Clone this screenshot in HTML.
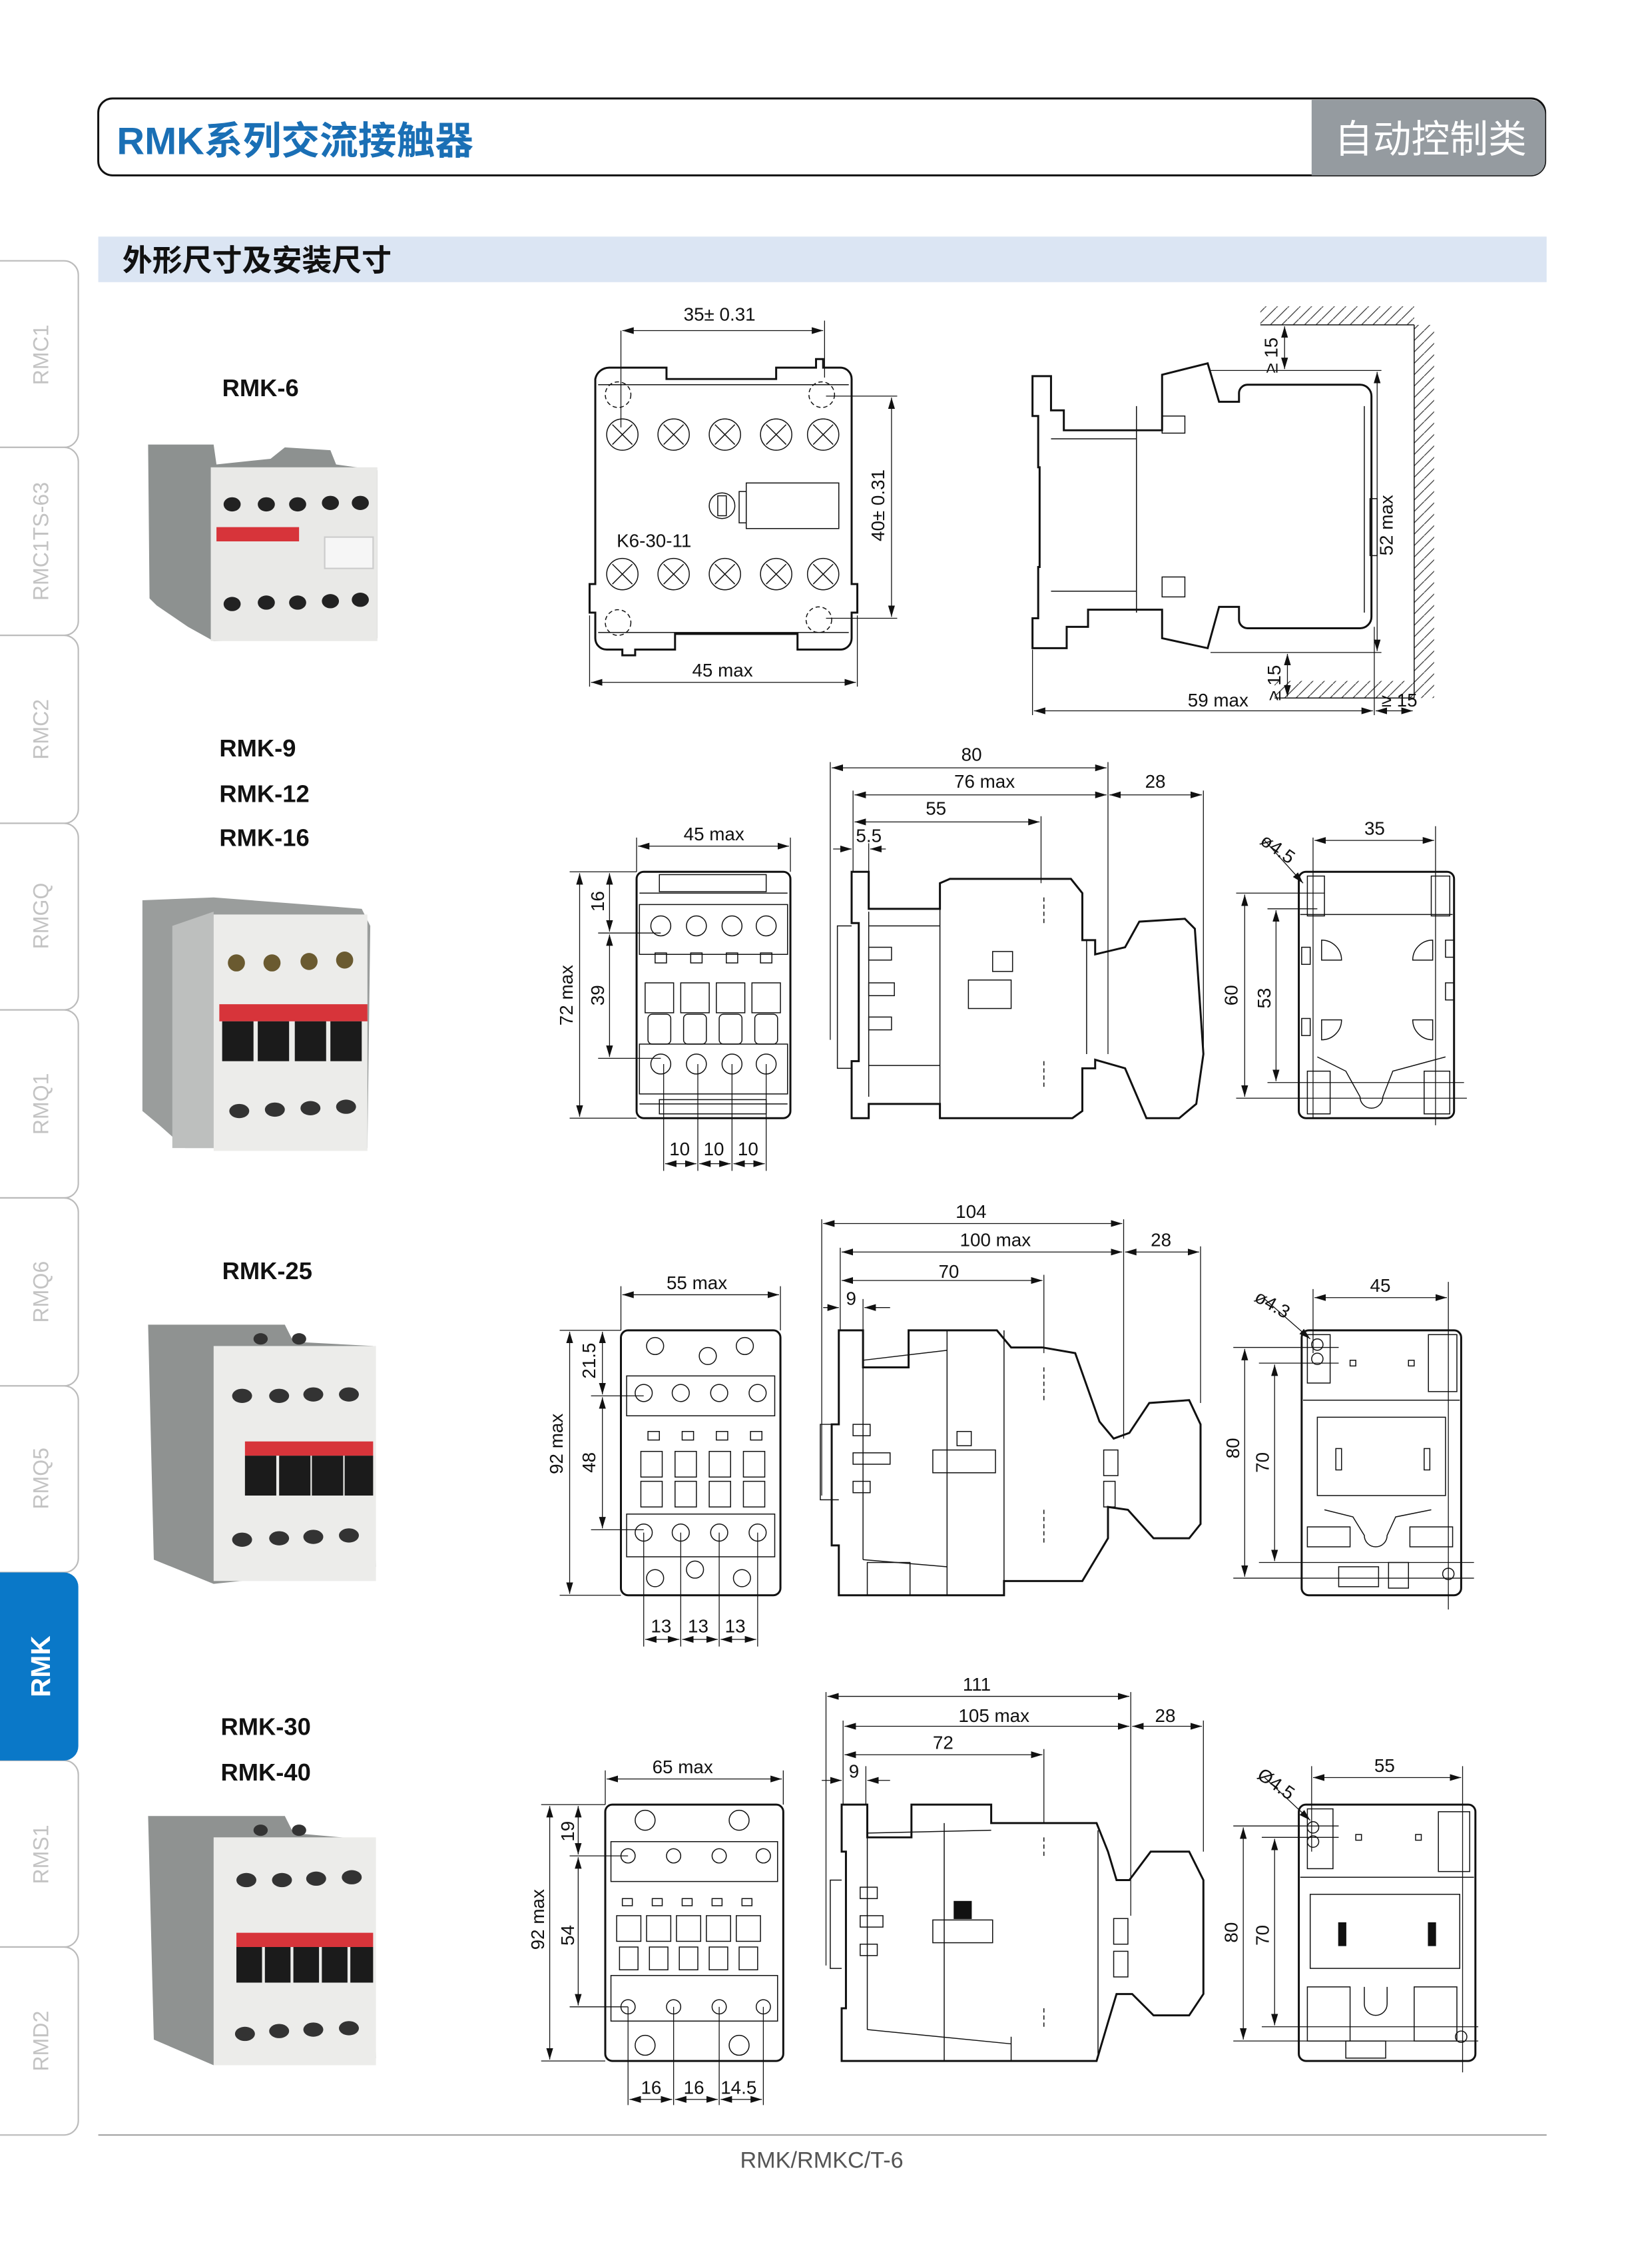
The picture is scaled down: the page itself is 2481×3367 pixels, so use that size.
<!DOCTYPE html>
<html><head><meta charset="utf-8">
<style>
html,body{margin:0;padding:0;background:#fff;}
svg{display:block;}
text{font-family:"Liberation Sans","Noto Sans CJK SC",sans-serif;}
.l{fill:none;stroke:#111;stroke-width:1.4}
.t{fill:none;stroke:#111;stroke-width:0.7}
.d{fill:none;stroke:#111;stroke-width:0.6}
.dl{font-size:13px;fill:#111}
.tab{font-size:15px;fill:#c3c3c3}
.m{font-size:17px;font-weight:bold;fill:#111}
.dash{fill:none;stroke:#111;stroke-width:0.7;stroke-dasharray:3 2}
</style></head>
<body>
<svg width="2481" height="3367" viewBox="0 0 1160 1574" xmlns="http://www.w3.org/2000/svg">
<defs>
<marker id="a" viewBox="0 0 10 6" refX="10" refY="3" markerWidth="8" markerHeight="5" orient="auto-start-reverse" markerUnits="userSpaceOnUse"><path d="M0,0L10,3L0,6z" fill="#111"/></marker>
<pattern id="h" width="8" height="8" patternUnits="userSpaceOnUse"><path d="M0,8L8,0" stroke="#333" stroke-width="0.6"/></pattern>
</defs>

<!-- header -->
<rect x="69" y="69" width="1016" height="54" rx="10" fill="#fff" stroke="#111" stroke-width="1.4"/>
<path d="M921,70H1075a10,10 0 0 1 10,10V113a10,10 0 0 1 -10,10H921z" fill="#959ba0"/>
<text x="82" y="108" font-size="27" font-weight="bold" fill="#1a6fb5">RMK系列交流接触器</text>
<text x="937" y="107" font-size="27" fill="#fff">自动控制类</text>

<rect x="69" y="166" width="1017" height="32" fill="#dbe5f3"/>
<text x="86" y="190" font-size="21" font-weight="bold" fill="#111">外形尺寸及安装尺寸</text>

<!-- side tabs -->
<g fill="#fff" stroke="#bbb" stroke-width="1">
<path d="M0,183H45a10,10 0 0 1 10,10V304a10,10 0 0 1 -10,10H0"/>
<path d="M0,314H45a10,10 0 0 1 10,10V436a10,10 0 0 1 -10,10H0"/>
<path d="M0,446H45a10,10 0 0 1 10,10V568a10,10 0 0 1 -10,10H0"/>
<path d="M0,578H45a10,10 0 0 1 10,10V699a10,10 0 0 1 -10,10H0"/>
<path d="M0,709H45a10,10 0 0 1 10,10V831a10,10 0 0 1 -10,10H0"/>
<path d="M0,841H45a10,10 0 0 1 10,10V963a10,10 0 0 1 -10,10H0"/>
<path d="M0,973H45a10,10 0 0 1 10,10V1094a10,10 0 0 1 -10,10H0"/>
<path d="M0,1236H45a10,10 0 0 1 10,10V1357a10,10 0 0 1 -10,10H0"/>
<path d="M0,1367H45a10,10 0 0 1 10,10V1489a10,10 0 0 1 -10,10H0"/>
</g>
<path d="M0,1104H45a10,10 0 0 1 10,10V1226a10,10 0 0 1 -10,10H0z" fill="#0a78c8"/>
<g text-anchor="middle">
<text class="tab" transform="translate(34,249) rotate(-90)">RMC1</text>
<text class="tab" transform="translate(34,380) rotate(-90)">RMC1TS-63</text>
<text class="tab" transform="translate(34,512) rotate(-90)">RMC2</text>
<text class="tab" transform="translate(34,643) rotate(-90)">RMGQ</text>
<text class="tab" transform="translate(34,775) rotate(-90)">RMQ1</text>
<text class="tab" transform="translate(34,907) rotate(-90)">RMQ6</text>
<text class="tab" transform="translate(34,1038) rotate(-90)">RMQ5</text>
<text transform="translate(35,1170) rotate(-90)" font-size="19" font-weight="bold" fill="#fff">RMK</text>
<text class="tab" transform="translate(34,1302) rotate(-90)">RMS1</text>
<text class="tab" transform="translate(34,1433) rotate(-90)">RMD2</text>
</g>

<!-- model labels -->
<text class="m" x="156" y="278">RMK-6</text>
<text class="m" x="154" y="531">RMK-9</text>
<text class="m" x="154" y="563">RMK-12</text>
<text class="m" x="154" y="594">RMK-16</text>
<text class="m" x="156" y="898">RMK-25</text>
<text class="m" x="155" y="1218">RMK-30</text>
<text class="m" x="155" y="1250">RMK-40</text>

<!-- photo 1 -->
<g>
<path d="M104,312L150,312L152,326L190,322L200,314L232,316L236,326L265,330L265,448L150,450L132,440L110,425L105,420z" fill="#8d9190"/>
<rect x="148" y="328" width="117" height="122" fill="#e9e9e7"/>
<g fill="#222"><ellipse cx="163" cy="354" rx="6" ry="5"/><ellipse cx="187" cy="354" rx="6" ry="5"/><ellipse cx="209" cy="354" rx="6" ry="5"/><ellipse cx="232" cy="353" rx="6" ry="5"/><ellipse cx="253" cy="353" rx="6" ry="5"/>
<ellipse cx="163" cy="424" rx="6" ry="5"/><ellipse cx="187" cy="423" rx="6" ry="5"/><ellipse cx="209" cy="423" rx="6" ry="5"/><ellipse cx="232" cy="422" rx="6" ry="5"/><ellipse cx="253" cy="421" rx="6" ry="5"/></g>
<rect x="152" y="370" width="58" height="10" fill="#d7343a"/>
<rect x="228" y="377" width="34" height="22" fill="#f6f6f6" stroke="#ccc"/>
</g>
<!-- photo 2 -->
<g>
<path d="M100,632L150,630L254,638L260,650L258,806L130,806L112,790L100,780z" fill="#9a9d9c"/>
<path d="M121,650L150,640L150,806L121,806z" fill="#bdbfbe"/>
<rect x="150" y="642" width="108" height="166" fill="#ececea"/>
<g fill="#6a5a30"><circle cx="166" cy="676" r="6"/><circle cx="191" cy="676" r="6"/><circle cx="217" cy="675" r="6"/><circle cx="242" cy="674" r="6"/></g>
<rect x="154" y="705" width="104" height="12" fill="#d7343a"/>
<g fill="#1b1b1b"><rect x="156" y="717" width="22" height="28"/><rect x="181" y="717" width="22" height="28"/><rect x="207" y="717" width="22" height="28"/><rect x="232" y="717" width="22" height="28"/></g>
<g fill="#333"><ellipse cx="168" cy="780" rx="7" ry="5"/><ellipse cx="193" cy="779" rx="7" ry="5"/><ellipse cx="218" cy="778" rx="7" ry="5"/><ellipse cx="243" cy="777" rx="7" ry="5"/></g>
</g>
<!-- photo 3 -->
<g>
<path d="M104,930L200,930L206,942L262,945L264,1100L150,1112L108,1095z" fill="#8f9291"/>
<rect x="150" y="945" width="114" height="165" fill="#ececea"/>
<g fill="#333"><ellipse cx="183" cy="940" rx="5" ry="4"/><ellipse cx="210" cy="940" rx="5" ry="4"/><ellipse cx="170" cy="980" rx="7" ry="5"/><ellipse cx="196" cy="980" rx="7" ry="5"/><ellipse cx="220" cy="979" rx="7" ry="5"/><ellipse cx="245" cy="979" rx="7" ry="5"/>
<ellipse cx="170" cy="1081" rx="7" ry="5"/><ellipse cx="196" cy="1080" rx="7" ry="5"/><ellipse cx="220" cy="1079" rx="7" ry="5"/><ellipse cx="245" cy="1078" rx="7" ry="5"/></g>
<rect x="172" y="1012" width="90" height="10" fill="#d7343a"/>
<g fill="#1b1b1b"><rect x="172" y="1022" width="22" height="28"/><rect x="196" y="1022" width="22" height="28"/><rect x="219" y="1022" width="22" height="28"/><rect x="242" y="1022" width="20" height="28"/></g>
</g>
<!-- photo 4 -->
<g>
<path d="M104,1275L200,1275L206,1287L262,1292L264,1445L150,1450L108,1432z" fill="#8f9291"/>
<rect x="150" y="1290" width="114" height="160" fill="#ececea"/>
<g fill="#333"><ellipse cx="183" cy="1285" rx="5" ry="4"/><ellipse cx="210" cy="1285" rx="5" ry="4"/><ellipse cx="173" cy="1320" rx="7" ry="5"/><ellipse cx="198" cy="1320" rx="7" ry="5"/><ellipse cx="222" cy="1319" rx="7" ry="5"/><ellipse cx="247" cy="1318" rx="7" ry="5"/>
<ellipse cx="172" cy="1428" rx="7" ry="5"/><ellipse cx="196" cy="1426" rx="7" ry="5"/><ellipse cx="220" cy="1425" rx="7" ry="5"/><ellipse cx="245" cy="1424" rx="7" ry="5"/></g>
<rect x="166" y="1357" width="96" height="10" fill="#d7343a"/>
<g fill="#1b1b1b"><rect x="166" y="1367" width="18" height="25"/><rect x="186" y="1367" width="18" height="25"/><rect x="206" y="1367" width="18" height="25"/><rect x="226" y="1367" width="18" height="25"/><rect x="246" y="1367" width="16" height="25"/></g>
</g>

<!-- ===== ROW 1 ===== -->
<!-- front -->
<path class="l" d="M428,258H468V266H545V258H573V252H578V258H590a8,8 0 0 1 8,8V410H602V430H598V448a8,8 0 0 1 -8,8H560V445H474V456H446V460H437V456H426a8,8 0 0 1 -8,-8V430H414V410H418V266a10,10 0 0 1 10,-8z"/>
<line class="t" x1="420" y1="270" x2="596" y2="270"/>
<line class="t" x1="420" y1="444" x2="596" y2="444"/>
<g class="t">
<circle cx="437" cy="305" r="11"/><circle cx="473" cy="305" r="11"/><circle cx="509" cy="305" r="11"/><circle cx="545" cy="305" r="11"/><circle cx="578" cy="305" r="11"/>
<circle cx="437" cy="403" r="11"/><circle cx="473" cy="403" r="11"/><circle cx="509" cy="403" r="11"/><circle cx="545" cy="403" r="11"/><circle cx="578" cy="403" r="11"/>
<path d="M430,298l14,14M444,298l-14,14M466,298l14,14M480,298l-14,14M502,298l14,14M516,298l-14,14M538,298l14,14M552,298l-14,14M571,298l14,14M585,298l-14,14"/>
<path d="M430,396l14,14M444,396l-14,14M466,396l14,14M480,396l-14,14M502,396l14,14M516,396l-14,14M538,396l14,14M552,396l-14,14M571,396l14,14M585,396l-14,14"/>
<rect x="524" y="339" width="65" height="32"/><rect x="519" y="345" width="5" height="22"/>
<circle cx="507" cy="355" r="9"/><rect x="504" y="348" width="6" height="14"/>
</g>
<circle class="dash" cx="434" cy="277" r="9"/><circle class="dash" cx="577" cy="277" r="9"/>
<circle class="dash" cx="434" cy="437" r="9"/><circle class="dash" cx="575" cy="435" r="9"/>
<text class="dl" x="433" y="384">K6-30-11</text>
<line class="d" x1="436" y1="232" x2="436" y2="300"/><line class="d" x1="579" y1="225" x2="579" y2="265"/>
<line class="d" x1="437" y1="232" x2="578" y2="232" marker-start="url(#a)" marker-end="url(#a)"/>
<text class="dl" x="480" y="225">35± 0.31</text>
<line class="d" x1="580" y1="278" x2="630" y2="278"/><line class="d" x1="580" y1="434" x2="630" y2="434"/>
<line class="d" x1="626" y1="279" x2="626" y2="433" marker-start="url(#a)" marker-end="url(#a)"/>
<text class="dl" transform="translate(621,380) rotate(-90)">40± 0.31</text>
<line class="d" x1="414" y1="432" x2="414" y2="482"/><line class="d" x1="602" y1="432" x2="602" y2="482"/>
<line class="d" x1="415" y1="479" x2="601" y2="479" marker-start="url(#a)" marker-end="url(#a)"/>
<text class="dl" x="486" y="475">45 max</text>
<!-- side -->
<rect x="885" y="215" width="108" height="13" fill="url(#h)"/>
<rect x="993" y="228" width="14" height="262" fill="url(#h)"/>
<rect x="895" y="478" width="98" height="12" fill="url(#h)"/>
<line class="t" x1="885" y1="228" x2="993" y2="228"/><line class="t" x1="993" y1="228" x2="993" y2="490"/><line class="t" x1="895" y1="490" x2="993" y2="490"/>
<path class="l" d="M725,264H738V288H747V302H816V263L848,255L856,282H870V276a6,6 0 0 1 6,-6H955a8,8 0 0 1 8,8V433a8,8 0 0 1 -8,8H876a6,6 0 0 1 -6,-6V426H856L848,455L816,448V428H764V440H749V455H725V434H729V398H730V328H729V292H725z"/>
<g class="t"><line x1="798" y1="285" x2="798" y2="430"/><line x1="738" y1="308" x2="798" y2="308"/><line x1="738" y1="415" x2="798" y2="415"/>
<rect x="816" y="292" width="16" height="12"/><rect x="816" y="405" width="16" height="14"/><line x1="958" y1="285" x2="958" y2="430"/><rect x="962" y="350" width="5" height="40"/></g>
<line class="d" x1="850" y1="260" x2="970" y2="260"/><line class="d" x1="850" y1="458" x2="970" y2="458"/>
<line class="d" x1="967" y1="261" x2="967" y2="457" marker-start="url(#a)" marker-end="url(#a)"/>
<text class="dl" transform="translate(978,390) rotate(-90)">52 max</text>
<line class="d" x1="902" y1="229" x2="902" y2="259" marker-start="url(#a)" marker-end="url(#a)"/>
<text class="dl" transform="translate(897,262) rotate(-90)">≥ 15</text>
<line class="d" x1="904" y1="459" x2="904" y2="489" marker-start="url(#a)" marker-end="url(#a)"/>
<text class="dl" transform="translate(899,492) rotate(-90)">≥ 15</text>
<line class="d" x1="725" y1="456" x2="725" y2="502"/><line class="d" x1="965" y1="440" x2="965" y2="502"/>
<line class="d" x1="726" y1="499" x2="964" y2="499" marker-start="url(#a)" marker-end="url(#a)"/>
<line class="d" x1="966" y1="499" x2="992" y2="499" marker-start="url(#a)" marker-end="url(#a)"/>
<text class="dl" x="834" y="496">59 max</text>
<text class="dl" x="970" y="496">≥ 15</text>

<!-- ===== ROW 2 ===== -->
<rect class="l" x="447" y="612" width="108" height="173" rx="5"/>
<g class="t"><rect x="449" y="635" width="104" height="35"/><rect x="449" y="733" width="104" height="35"/>
<line x1="449" y1="627" x2="553" y2="627"/><line x1="449" y1="775" x2="553" y2="775"/>
<rect x="463" y="614" width="75" height="12"/><rect x="463" y="772" width="75" height="10"/>
<circle cx="464" cy="650" r="7"/><circle cx="489" cy="650" r="7"/><circle cx="514" cy="650" r="7"/><circle cx="538" cy="650" r="7"/>
<circle cx="464" cy="747" r="7"/><circle cx="489" cy="747" r="7"/><circle cx="514" cy="747" r="7"/><circle cx="538" cy="747" r="7"/>
<rect x="460" y="669" width="8" height="7"/><rect x="485" y="669" width="8" height="7"/><rect x="510" y="669" width="8" height="7"/><rect x="534" y="669" width="8" height="7"/>
<rect x="453" y="690" width="20" height="21"/><rect x="478" y="690" width="20" height="21"/><rect x="503" y="690" width="20" height="21"/><rect x="528" y="690" width="20" height="21"/>
<rect x="455" y="712" width="16" height="21" rx="3"/><rect x="480" y="712" width="16" height="21" rx="3"/><rect x="505" y="712" width="16" height="21" rx="3"/><rect x="530" y="712" width="16" height="21" rx="3"/></g>
<line class="d" x1="447" y1="588" x2="447" y2="612"/><line class="d" x1="555" y1="588" x2="555" y2="612"/>
<line class="d" x1="448" y1="594" x2="554" y2="594" marker-start="url(#a)" marker-end="url(#a)"/>
<text class="dl" x="480" y="590">45 max</text>
<line class="d" x1="400" y1="612" x2="447" y2="612"/><line class="d" x1="400" y1="785" x2="447" y2="785"/>
<line class="d" x1="407" y1="613" x2="407" y2="784" marker-start="url(#a)" marker-end="url(#a)"/>
<text class="dl" transform="translate(402,720) rotate(-90)">72 max</text>
<line class="d" x1="420" y1="655" x2="464" y2="655"/><line class="d" x1="420" y1="743" x2="464" y2="743"/>
<line class="d" x1="428" y1="613" x2="428" y2="654" marker-start="url(#a)" marker-end="url(#a)"/>
<line class="d" x1="428" y1="656" x2="428" y2="742" marker-start="url(#a)" marker-end="url(#a)"/>
<text class="dl" transform="translate(424,640) rotate(-90)">16</text>
<text class="dl" transform="translate(424,706) rotate(-90)">39</text>
<g class="d"><line x1="466" y1="747" x2="466" y2="822"/><line x1="490" y1="747" x2="490" y2="822"/><line x1="514" y1="747" x2="514" y2="822"/><line x1="538" y1="747" x2="538" y2="822"/></g>
<line class="d" x1="467" y1="817" x2="489" y2="817" marker-start="url(#a)" marker-end="url(#a)"/>
<line class="d" x1="491" y1="817" x2="513" y2="817" marker-start="url(#a)" marker-end="url(#a)"/>
<line class="d" x1="515" y1="817" x2="537" y2="817" marker-start="url(#a)" marker-end="url(#a)"/>
<text class="dl" x="470" y="811">10</text><text class="dl" x="494" y="811">10</text><text class="dl" x="518" y="811">10</text>
<!-- side row2 -->
<path class="l" d="M598,612H610V638H660V620L667,617H752L760,627V660H769V670L790,665L800,647L832,645L839,652L845,740L840,775L828,785L805,785L790,750L769,744V750H760V780L753,785H660V775H610V785H598V745H603V648H598z"/>
<g class="t"><line x1="610" y1="640" x2="610" y2="770"/><line x1="660" y1="620" x2="660" y2="785"/><line x1="610" y1="748" x2="660" y2="748"/><line x1="610" y1="650" x2="660" y2="650"/>
<rect x="610" y="665" width="16" height="9"/><rect x="610" y="690" width="18" height="9"/><rect x="610" y="714" width="16" height="9"/>
<rect x="697" y="668" width="14" height="14"/><rect x="680" y="688" width="30" height="20"/>
<path d="M598,650H588V750H598" /><line x1="763" y1="660" x2="763" y2="740"/></g>
<line class="dash" x1="733" y1="630" x2="733" y2="650"/><line class="dash" x1="733" y1="745" x2="733" y2="765"/>
<line class="d" x1="583" y1="535" x2="583" y2="730"/><line class="d" x1="778" y1="535" x2="778" y2="740"/><line class="d" x1="845" y1="555" x2="845" y2="740"/>
<line class="d" x1="599" y1="555" x2="599" y2="612"/><line class="d" x1="731" y1="573" x2="731" y2="620"/><line class="d" x1="610" y1="592" x2="610" y2="612"/>
<line class="d" x1="584" y1="539" x2="777" y2="539" marker-start="url(#a)" marker-end="url(#a)"/>
<line class="d" x1="600" y1="558" x2="777" y2="558" marker-start="url(#a)" marker-end="url(#a)"/>
<line class="d" x1="779" y1="558" x2="844" y2="558" marker-start="url(#a)" marker-end="url(#a)"/>
<line class="d" x1="600" y1="577" x2="730" y2="577" marker-start="url(#a)" marker-end="url(#a)"/>
<line class="d" x1="585" y1="596" x2="598" y2="596" marker-end="url(#a)"/><line class="d" x1="622" y1="596" x2="611" y2="596" marker-end="url(#a)"/>
<text class="dl" x="675" y="534">80</text><text class="dl" x="670" y="553">76 max</text><text class="dl" x="804" y="553">28</text><text class="dl" x="650" y="572">55</text><text class="dl" x="601" y="591">5.5</text>
<!-- right row2 -->
<rect class="l" x="912" y="612" width="109" height="173" rx="5"/>
<g class="t"><line x1="913" y1="642" x2="1020" y2="642"/><rect x="918" y="615" width="12" height="28"/><rect x="1005" y="615" width="13" height="28"/>
<path d="M928,660a14,14 0 0 1 14,14h-14z"/><path d="M1006,660a14,14 0 0 0 -14,14h14z"/><path d="M928,730a14,14 0 0 0 14,-14h-14z"/><path d="M1006,730a14,14 0 0 1 -14,-14h14z"/>
<path d="M925,742L945,752L955,770a8,8 0 0 0 16,0L978,752L1015,742"/><rect x="918" y="752" width="16" height="30"/><rect x="1000" y="752" width="18" height="30"/>
<rect x="1015" y="660" width="6" height="12"/><rect x="1015" y="690" width="6" height="12"/><rect x="914" y="665" width="6" height="12"/><rect x="914" y="715" width="6" height="12"/></g>
<line class="d" x1="922" y1="588" x2="922" y2="785"/><line class="d" x1="1008" y1="580" x2="1008" y2="790"/>
<line class="d" x1="923" y1="590" x2="1007" y2="590" marker-start="url(#a)" marker-end="url(#a)"/>
<text class="dl" x="958" y="586">35</text>
<line class="d" x1="888" y1="590" x2="915" y2="620" marker-end="url(#a)"/>
<text class="dl" transform="translate(884,592) rotate(35)">ø4.5</text>
<line class="d" x1="868" y1="627" x2="930" y2="627"/><line class="d" x1="868" y1="771" x2="1030" y2="771"/>
<line class="d" x1="890" y1="638" x2="925" y2="638"/><line class="d" x1="890" y1="760" x2="1028" y2="760"/>
<line class="d" x1="874" y1="628" x2="874" y2="770" marker-start="url(#a)" marker-end="url(#a)"/>
<line class="d" x1="896" y1="639" x2="896" y2="759" marker-start="url(#a)" marker-end="url(#a)"/>
<text class="dl" transform="translate(869,706) rotate(-90)">60</text>
<text class="dl" transform="translate(892,708) rotate(-90)">53</text>

<!-- ===== ROW 3 ===== -->
<rect class="l" x="436" y="934" width="112" height="186" rx="5"/>
<g class="t"><rect x="440" y="966" width="104" height="28"/><rect x="440" y="1063" width="104" height="30"/>
<circle cx="460" cy="945" r="6"/><circle cx="497" cy="952" r="6"/><circle cx="523" cy="945" r="6"/><circle cx="460" cy="1108" r="6"/><circle cx="488" cy="1102" r="6"/><circle cx="521" cy="1108" r="6"/>
<circle cx="452" cy="978" r="6"/><circle cx="478" cy="978" r="6"/><circle cx="505" cy="978" r="6"/><circle cx="532" cy="978" r="6"/>
<circle cx="452" cy="1076" r="6"/><circle cx="478" cy="1076" r="6"/><circle cx="505" cy="1076" r="6"/><circle cx="532" cy="1076" r="6"/>
<rect x="450" y="1019" width="15" height="18"/><rect x="474" y="1019" width="15" height="18"/><rect x="498" y="1019" width="15" height="18"/><rect x="522" y="1019" width="15" height="18"/>
<rect x="450" y="1040" width="15" height="18"/><rect x="474" y="1040" width="15" height="18"/><rect x="498" y="1040" width="15" height="18"/><rect x="522" y="1040" width="15" height="18"/>
<rect x="455" y="1005" width="8" height="6"/><rect x="479" y="1005" width="8" height="6"/><rect x="503" y="1005" width="8" height="6"/><rect x="527" y="1005" width="8" height="6"/></g>
<line class="d" x1="436" y1="903" x2="436" y2="934"/><line class="d" x1="548" y1="903" x2="548" y2="934"/>
<line class="d" x1="437" y1="909" x2="547" y2="909" marker-start="url(#a)" marker-end="url(#a)"/>
<text class="dl" x="468" y="905">55 max</text>
<line class="d" x1="393" y1="934" x2="436" y2="934"/><line class="d" x1="393" y1="1120" x2="436" y2="1120"/>
<line class="d" x1="400" y1="935" x2="400" y2="1119" marker-start="url(#a)" marker-end="url(#a)"/>
<text class="dl" transform="translate(395,1035) rotate(-90)">92 max</text>
<line class="d" x1="415" y1="980" x2="452" y2="980"/><line class="d" x1="415" y1="1074" x2="452" y2="1074"/>
<line class="d" x1="423" y1="935" x2="423" y2="979" marker-start="url(#a)" marker-end="url(#a)"/>
<line class="d" x1="423" y1="981" x2="423" y2="1073" marker-start="url(#a)" marker-end="url(#a)"/>
<text class="dl" transform="translate(418,968) rotate(-90)">21.5</text>
<text class="dl" transform="translate(418,1034) rotate(-90)">48</text>
<g class="d"><line x1="452" y1="1076" x2="452" y2="1156"/><line x1="478" y1="1076" x2="478" y2="1156"/><line x1="505" y1="1076" x2="505" y2="1156"/><line x1="532" y1="1076" x2="532" y2="1156"/></g>
<line class="d" x1="453" y1="1151" x2="477" y2="1151" marker-start="url(#a)" marker-end="url(#a)"/>
<line class="d" x1="479" y1="1151" x2="504" y2="1151" marker-start="url(#a)" marker-end="url(#a)"/>
<line class="d" x1="506" y1="1151" x2="531" y2="1151" marker-start="url(#a)" marker-end="url(#a)"/>
<text class="dl" x="457" y="1146">13</text><text class="dl" x="483" y="1146">13</text><text class="dl" x="509" y="1146">13</text>
<!-- side row3 -->
<path class="l" d="M589,934H606V960H638V934H700L710,946H732L755,950L772,998L782,1010L793,1006L807,985L835,983L843,1000V1070L835,1080L810,1080L792,1060L778,1058V1080L760,1110H705V1120H589V1085H584V1000H589z"/>
<g class="t"><line x1="606" y1="960" x2="606" y2="1095"/><line x1="665" y1="934" x2="665" y2="1120"/><line x1="705" y1="934" x2="705" y2="1120"/>
<line x1="606" y1="955" x2="665" y2="948"/><line x1="606" y1="1095" x2="665" y2="1100"/><rect x="609" y="1097" width="30" height="23"/>
<rect x="599" y="1000" width="12" height="8"/><rect x="599" y="1020" width="26" height="8"/><rect x="599" y="1040" width="12" height="8"/>
<rect x="655" y="1018" width="44" height="16"/><rect x="672" y="1005" width="10" height="10"/><rect x="775" y="1018" width="10" height="18"/><rect x="775" y="1040" width="8" height="18"/>
<path d="M584,1000H576V1053H589"/></g>
<line class="dash" x1="733" y1="960" x2="733" y2="985"/><line class="dash" x1="733" y1="1060" x2="733" y2="1085"/>
<line class="d" x1="577" y1="856" x2="577" y2="1050"/><line class="d" x1="789" y1="856" x2="789" y2="1010"/><line class="d" x1="843" y1="875" x2="843" y2="985"/>
<line class="d" x1="590" y1="876" x2="590" y2="934"/><line class="d" x1="733" y1="895" x2="733" y2="950"/><line class="d" x1="606" y1="912" x2="606" y2="934"/>
<line class="d" x1="578" y1="859" x2="788" y2="859" marker-start="url(#a)" marker-end="url(#a)"/>
<line class="d" x1="591" y1="879" x2="788" y2="879" marker-start="url(#a)" marker-end="url(#a)"/>
<line class="d" x1="790" y1="879" x2="842" y2="879" marker-start="url(#a)" marker-end="url(#a)"/>
<line class="d" x1="591" y1="899" x2="732" y2="899" marker-start="url(#a)" marker-end="url(#a)"/>
<line class="d" x1="578" y1="918" x2="589" y2="918" marker-end="url(#a)"/><line class="d" x1="625" y1="918" x2="607" y2="918" marker-end="url(#a)"/>
<text class="dl" x="671" y="855">104</text><text class="dl" x="674" y="875">100 max</text><text class="dl" x="808" y="875">28</text><text class="dl" x="659" y="897">70</text><text class="dl" x="594" y="916">9</text>
<!-- right row3 -->
<rect class="l" x="914" y="934" width="112" height="186" rx="5"/>
<g class="t"><line x1="915" y1="983" x2="1025" y2="983"/><rect x="918" y="937" width="16" height="34"/><rect x="1003" y="937" width="20" height="40"/>
<rect x="925" y="995" width="90" height="55"/><rect x="938" y="1017" width="4" height="15"/><rect x="1000" y="1017" width="4" height="15"/>
<path d="M930,1060L950,1065L958,1078a8,8 0 0 0 16,0L980,1065L1005,1060"/><rect x="918" y="1072" width="30" height="14"/><rect x="990" y="1072" width="30" height="14"/>
<rect x="940" y="1100" width="28" height="14"/><rect x="975" y="1097" width="14" height="18"/><rect x="948" y="955" width="4" height="4"/><rect x="989" y="955" width="4" height="4"/></g>
<circle class="t" cx="925" cy="944" r="4"/><circle class="t" cx="925" cy="954" r="4"/><circle class="t" cx="1017" cy="1105" r="4"/>
<line class="d" x1="922" y1="905" x2="922" y2="950"/><line class="d" x1="1017" y1="900" x2="1017" y2="1130"/>
<line class="d" x1="923" y1="911" x2="1016" y2="911" marker-start="url(#a)" marker-end="url(#a)"/>
<text class="dl" x="962" y="907">45</text>
<line class="d" x1="888" y1="912" x2="920" y2="940" marker-end="url(#a)"/>
<text class="dl" transform="translate(880,913) rotate(30)">ø4.3</text>
<line class="d" x1="866" y1="946" x2="940" y2="946"/><line class="d" x1="866" y1="1108" x2="1035" y2="1108"/>
<line class="d" x1="884" y1="957" x2="940" y2="957"/><line class="d" x1="884" y1="1097" x2="1035" y2="1097"/>
<line class="d" x1="874" y1="947" x2="874" y2="1107" marker-start="url(#a)" marker-end="url(#a)"/>
<line class="d" x1="895" y1="958" x2="895" y2="1096" marker-start="url(#a)" marker-end="url(#a)"/>
<text class="dl" transform="translate(870,1024) rotate(-90)">80</text>
<text class="dl" transform="translate(891,1034) rotate(-90)">70</text>

<!-- ===== ROW 4 ===== -->
<rect class="l" x="425" y="1267" width="125" height="180" rx="5"/>
<g class="t"><rect x="429" y="1293" width="117" height="28"/><rect x="429" y="1387" width="117" height="32"/>
<circle cx="453" cy="1278" r="7"/><circle cx="519" cy="1278" r="7"/><circle cx="453" cy="1436" r="7"/><circle cx="519" cy="1436" r="7"/>
<circle cx="441" cy="1303" r="5"/><circle cx="473" cy="1303" r="5"/><circle cx="505" cy="1303" r="5"/><circle cx="536" cy="1303" r="5"/>
<circle cx="441" cy="1409" r="5"/><circle cx="473" cy="1409" r="5"/><circle cx="505" cy="1409" r="5"/><circle cx="536" cy="1409" r="5"/>
<rect x="437" y="1333" width="7" height="5"/><rect x="458" y="1333" width="7" height="5"/><rect x="479" y="1333" width="7" height="5"/><rect x="500" y="1333" width="7" height="5"/><rect x="521" y="1333" width="7" height="5"/>
<rect x="433" y="1345" width="17" height="18"/><rect x="454" y="1345" width="17" height="18"/><rect x="475" y="1345" width="17" height="18"/><rect x="496" y="1345" width="17" height="18"/><rect x="517" y="1345" width="17" height="18"/>
<rect x="435" y="1367" width="13" height="16"/><rect x="456" y="1367" width="13" height="16"/><rect x="477" y="1367" width="13" height="16"/><rect x="498" y="1367" width="13" height="16"/><rect x="519" y="1367" width="13" height="16"/></g>
<line class="d" x1="425" y1="1243" x2="425" y2="1267"/><line class="d" x1="550" y1="1243" x2="550" y2="1267"/>
<line class="d" x1="426" y1="1249" x2="549" y2="1249" marker-start="url(#a)" marker-end="url(#a)"/>
<text class="dl" x="458" y="1245">65 max</text>
<line class="d" x1="380" y1="1267" x2="425" y2="1267"/><line class="d" x1="380" y1="1447" x2="425" y2="1447"/>
<line class="d" x1="386" y1="1268" x2="386" y2="1446" marker-start="url(#a)" marker-end="url(#a)"/>
<text class="dl" transform="translate(382,1369) rotate(-90)">92 max</text>
<line class="d" x1="400" y1="1303" x2="441" y2="1303"/><line class="d" x1="400" y1="1409" x2="441" y2="1409"/>
<line class="d" x1="406" y1="1268" x2="406" y2="1302" marker-start="url(#a)" marker-end="url(#a)"/>
<line class="d" x1="406" y1="1304" x2="406" y2="1408" marker-start="url(#a)" marker-end="url(#a)"/>
<text class="dl" transform="translate(403,1293) rotate(-90)">19</text>
<text class="dl" transform="translate(403,1366) rotate(-90)">54</text>
<g class="d"><line x1="441" y1="1409" x2="441" y2="1478"/><line x1="473" y1="1409" x2="473" y2="1478"/><line x1="505" y1="1409" x2="505" y2="1478"/><line x1="536" y1="1409" x2="536" y2="1478"/></g>
<line class="d" x1="442" y1="1474" x2="472" y2="1474" marker-start="url(#a)" marker-end="url(#a)"/>
<line class="d" x1="474" y1="1474" x2="504" y2="1474" marker-start="url(#a)" marker-end="url(#a)"/>
<line class="d" x1="506" y1="1474" x2="535" y2="1474" marker-start="url(#a)" marker-end="url(#a)"/>
<text class="dl" x="450" y="1470">16</text><text class="dl" x="480" y="1470">16</text><text class="dl" x="506" y="1470">14.5</text>
<!-- side row4 -->
<path class="l" d="M591,1267H609V1290H640V1267H696V1280H710L770,1280L778,1300L784,1320H793L808,1300L835,1300L845,1320V1400L835,1415H810L795,1400H784L778,1420L770,1447H591V1410H594V1300H591z"/>
<g class="t"><line x1="609" y1="1290" x2="609" y2="1425"/><line x1="663" y1="1280" x2="663" y2="1447"/><line x1="609" y1="1287" x2="696" y2="1285"/>
<line x1="609" y1="1425" x2="710" y2="1435"/><line x1="710" y1="1430" x2="710" y2="1447"/>
<rect x="604" y="1325" width="12" height="8"/><rect x="604" y="1345" width="16" height="8"/><rect x="604" y="1365" width="12" height="8"/>
<rect x="655" y="1348" width="42" height="16"/><rect x="670" y="1335" width="12" height="12" fill="#111"/><rect x="782" y="1347" width="10" height="18"/><rect x="782" y="1370" width="10" height="18"/>
<path d="M591,1320H583V1382H591"/><line x1="771" y1="1285" x2="771" y2="1442"/></g>
<line class="dash" x1="733" y1="1290" x2="733" y2="1305"/><line class="dash" x1="733" y1="1410" x2="733" y2="1425"/>
<line class="d" x1="580" y1="1188" x2="580" y2="1380"/><line class="d" x1="794" y1="1188" x2="794" y2="1345"/><line class="d" x1="845" y1="1208" x2="845" y2="1300"/>
<line class="d" x1="592" y1="1208" x2="592" y2="1267"/><line class="d" x1="733" y1="1228" x2="733" y2="1280"/><line class="d" x1="608" y1="1240" x2="608" y2="1267"/>
<line class="d" x1="581" y1="1191" x2="793" y2="1191" marker-start="url(#a)" marker-end="url(#a)"/>
<line class="d" x1="593" y1="1212" x2="793" y2="1212" marker-start="url(#a)" marker-end="url(#a)"/>
<line class="d" x1="795" y1="1212" x2="844" y2="1212" marker-start="url(#a)" marker-end="url(#a)"/>
<line class="d" x1="593" y1="1232" x2="732" y2="1232" marker-start="url(#a)" marker-end="url(#a)"/>
<line class="d" x1="577" y1="1250" x2="591" y2="1250" marker-end="url(#a)"/><line class="d" x1="625" y1="1250" x2="609" y2="1250" marker-end="url(#a)"/>
<text class="dl" x="676" y="1187">111</text><text class="dl" x="673" y="1209">105 max</text><text class="dl" x="811" y="1209">28</text><text class="dl" x="655" y="1228">72</text><text class="dl" x="596" y="1248">9</text>
<!-- right row4 -->
<rect class="l" x="912" y="1267" width="124" height="180" rx="5"/>
<g class="t"><line x1="913" y1="1318" x2="1035" y2="1318"/><rect x="918" y="1270" width="18" height="42"/><rect x="1010" y="1272" width="22" height="42"/>
<rect x="920" y="1330" width="105" height="52"/><rect x="940" y="1350" width="5" height="16" fill="#111"/><rect x="1003" y="1350" width="5" height="16" fill="#111"/>
<rect x="918" y="1395" width="30" height="38"/><rect x="993" y="1395" width="30" height="38"/><path d="M958,1395v12a8,8 0 0 0 16,0v-12"/>
<rect x="945" y="1433" width="28" height="12"/><rect x="952" y="1288" width="4" height="4"/><rect x="994" y="1288" width="4" height="4"/></g>
<circle class="t" cx="922" cy="1283" r="4"/><circle class="t" cx="922" cy="1293" r="4"/><circle class="t" cx="1026" cy="1430" r="4"/>
<line class="d" x1="921" y1="1240" x2="921" y2="1300"/><line class="d" x1="1027" y1="1240" x2="1027" y2="1455"/>
<line class="d" x1="922" y1="1248" x2="1026" y2="1248" marker-start="url(#a)" marker-end="url(#a)"/>
<text class="dl" x="965" y="1244">55</text>
<line class="d" x1="888" y1="1248" x2="920" y2="1278" marker-end="url(#a)"/>
<text class="dl" transform="translate(882,1248) rotate(35)">Ø4.5</text>
<line class="d" x1="866" y1="1282" x2="940" y2="1282"/><line class="d" x1="866" y1="1433" x2="1038" y2="1433"/>
<line class="d" x1="886" y1="1290" x2="940" y2="1290"/><line class="d" x1="886" y1="1423" x2="1038" y2="1423"/>
<line class="d" x1="873" y1="1283" x2="873" y2="1432" marker-start="url(#a)" marker-end="url(#a)"/>
<line class="d" x1="895" y1="1291" x2="895" y2="1422" marker-start="url(#a)" marker-end="url(#a)"/>
<text class="dl" transform="translate(869,1364) rotate(-90)">80</text>
<text class="dl" transform="translate(891,1366) rotate(-90)">70</text>

<!-- footer -->
<line x1="69" y1="1499" x2="1086" y2="1499" stroke="#888" stroke-width="0.8"/>
<text x="577" y="1522" font-size="16" fill="#555" text-anchor="middle">RMK/RMKC/T-6</text>
</svg>
</body></html>
